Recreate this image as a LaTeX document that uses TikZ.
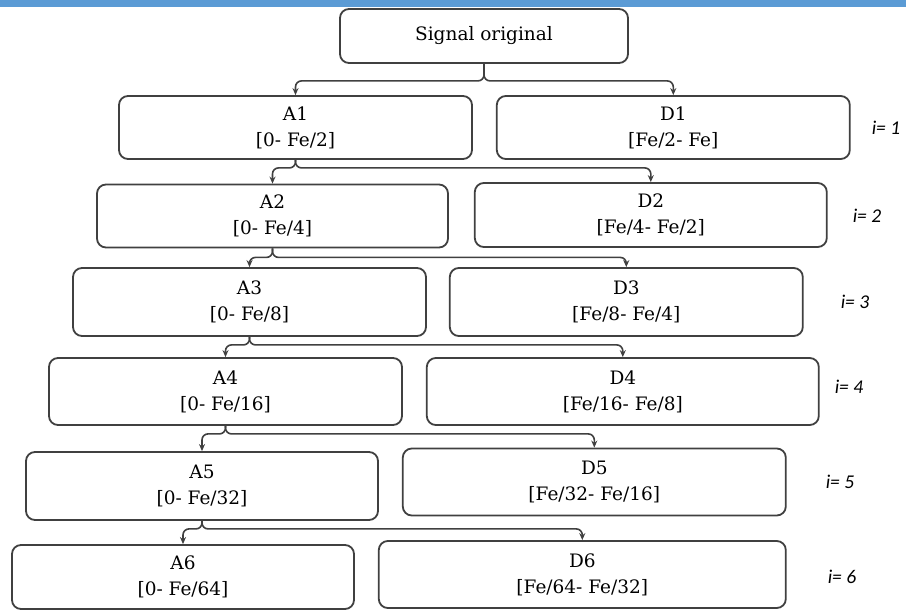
\documentclass[tikz,border=0pt]{standalone}
\usepackage{fontspec}
\usepackage{xcolor}
\setmainfont{DejaVu Serif}
\newfontfamily\levelfont{Carlito}
\usetikzlibrary{arrows.meta, positioning}

\definecolor{bandblue}{HTML}{5B9BD5}
\definecolor{boxline}{HTML}{404040}

\tikzset{
    box/.style={draw=boxline, line width=1.8pt, rounded corners=9pt, align=center,
        inner sep=0pt, font=\fontsize{18.5}{26}\selectfont},
    link/.style={draw=boxline, line width=1.6pt, rounded corners=6pt,
        -{Stealth[length=7pt, width=6pt]}},
    level/.style={font=\levelfont\itshape\fontsize{19.5}{22}\selectfont}
}

\begin{document}
\begin{tikzpicture}[x=1pt, y=1pt]
            \useasboundingbox (0,0) rectangle (906,-610);
            \fill[bandblue] (0,0) rectangle (906,-7);

            \node[box, minimum width=288pt, minimum height=54pt] (S) at (484,-36) {Signal original};

            \node[box, minimum width=353pt, minimum height=63pt] (A1) at (295.5,-127.5) {A1\\{}[0- Fe/2]};
            \node[box, minimum width=353pt, minimum height=63pt, right=23pt of A1] (D1) {D1\\{}[Fe/2- Fe]};

            \node[box, minimum width=351pt, minimum height=63pt] (A2) at (272.5,-216) {A2\\{}[0- Fe/4]};
            \node[box, minimum width=352pt, minimum height=64pt, right=25pt of A2, yshift=1pt] (D2) {D2\\{}[Fe/4- Fe/2]};

            \node[box, minimum width=353pt, minimum height=68pt] (A3) at (249.5,-302) {A3\\{}[0- Fe/8]};
            \node[box, minimum width=353pt, minimum height=68pt, right=22pt of A3] (D3) {D3\\{}[Fe/8- Fe/4]};

            \node[box, minimum width=353pt, minimum height=67pt] (A4) at (225.5,-391.5) {A4\\{}[0- Fe/16]};
            \node[box, minimum width=392pt, minimum height=67pt, right=23pt of A4] (D4) {D4\\{}[Fe/16- Fe/8]};

            \node[box, minimum width=352pt, minimum height=68pt] (A5) at (202,-486) {A5\\{}[0- Fe/32]};
            \node[box, minimum width=383pt, minimum height=67pt, right=23pt of A5, yshift=4pt] (D5) {D5\\{}[Fe/32- Fe/16]};

            \node[box, minimum width=342pt, minimum height=64pt] (A6) at (183,-577) {A6\\{}[0- Fe/64]};
            \node[box, minimum width=407pt, minimum height=67pt, right=23pt of A6, yshift=2.5pt] (D6) {D6\\{}[Fe/64- Fe/32]};

            \node[level] (i1) at (886,-128) {i= 1};
            \node[level] (i2) at (867,-216) {i= 2};
            \node[level] (i3) at (855,-302) {i= 3};
            \node[level] (i4) at (849,-387) {i= 4};
            \node[level] (i5) at (840,-482) {i= 5};
            \node[level] (i6) at (842,-577) {i= 6};

            \draw[link] (S.south) -- ++(0,-17) -| (A1.north);
            \draw[link] (S.south) -- ++(0,-17) -| (D1.north);
            \draw[link] (A1.south) -- ++(0,-8) -| (A2.north);
            \draw[link] (A1.south) -- ++(0,-8) -| (D2.north);
            \draw[link] (A2.south) -- ++(0,-9) -| (A3.north);
            \draw[link] (A2.south) -- ++(0,-9) -| (D3.north);
            \draw[link] (A3.south) -- ++(0,-8) -| (A4.north);
            \draw[link] (A3.south) -- ++(0,-8) -| (D4.north);
            \draw[link] (A4.south) -- ++(0,-8) -| (A5.north);
            \draw[link] (A4.south) -- ++(0,-8) -| (D5.north);
            \draw[link] (A5.south) -- ++(0,-8) -| (A6.north);
            \draw[link] (A5.south) -- ++(0,-8) -| (D6.north);

        \end{tikzpicture}
\end{document}
